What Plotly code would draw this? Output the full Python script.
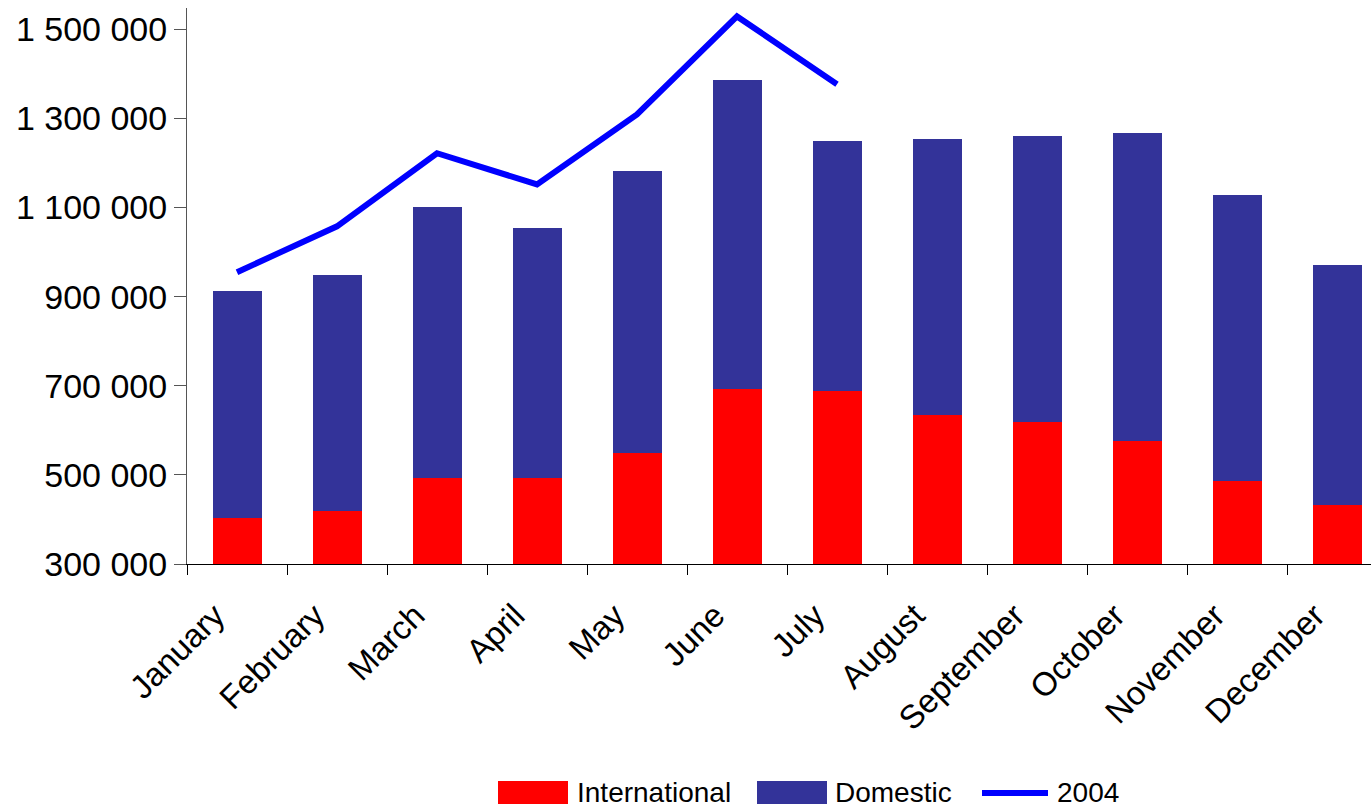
import plotly.graph_objects as go

months = ["January", "February", "March", "April", "May", "June", "July",
          "August", "September", "October", "November", "December"]
international = [403000, 418000, 492000, 492000, 549000, 692000, 688000,
                 634000, 618000, 576000, 486000, 433000]
domestic = [509000, 530000, 609000, 562000, 633000, 694000, 561000,
            620000, 642000, 691000, 642000, 538000]
line_2004 = [955000, 1058000, 1222000, 1152000, 1309000, 1529000, 1377000]
line_months = months[:7]

y_ticks = [300000, 500000, 700000, 900000, 1100000, 1300000, 1500000]

RED = "#FF0000"
NAVY = "#333399"
BLUE = "#0000FF"
FONT = "Liberation Sans, Arial, sans-serif"

fig = go.Figure()
fig.add_trace(go.Bar(x=months, y=international, name="International",
                     marker=dict(color=RED, line=dict(width=0)), width=0.49,
                     showlegend=False))
fig.add_trace(go.Bar(x=months, y=domestic, name="Domestic",
                     marker=dict(color=NAVY, line=dict(width=0)), width=0.49,
                     showlegend=False))
fig.add_trace(go.Scatter(x=line_months, y=line_2004, name="2004", mode="lines",
                         line=dict(color=BLUE, width=6), showlegend=False))

# plot geometry in pixels (for custom legend placement)
L, T, W, H = 187, 8, 1371, 809
B = 245
pw = W - L
ph = H - T - B

def px(x):
    return (x - L) / pw

def py(y):
    return (H - B - y) / ph

shapes = []
annotations = []
legend_items = [
    ("International", RED, "rect", 498, 568, 575),
    ("Domestic", NAVY, "rect", 757, 827, 833),
    ("2004", BLUE, "line", 982, 1048, 1055),
]
LEG_Y = 793
for label, col, kind, x0, x1, tx in legend_items:
    if kind == "rect":
        shapes.append(dict(type="rect", xref="paper", yref="paper",
                           x0=px(x0), x1=px(x1), y0=py(LEG_Y + 11), y1=py(LEG_Y - 12),
                           fillcolor=col, line=dict(width=0)))
    else:
        shapes.append(dict(type="line", xref="paper", yref="paper",
                           x0=px(x0), x1=px(x1), y0=py(LEG_Y), y1=py(LEG_Y),
                           line=dict(color=col, width=6)))
    annotations.append(dict(text=label, xref="paper", yref="paper",
                            x=px(tx), y=py(LEG_Y), xanchor="left", yanchor="middle",
                            showarrow=False,
                            font=dict(family=FONT, size=28, color="black")))

fig.update_layout(
    barmode="stack",
    width=W, height=H,
    margin=dict(l=L, r=0, t=T, b=B, pad=0),
    plot_bgcolor="white", paper_bgcolor="white",
    separators=". ",
    font=dict(family=FONT, color="black"),
    showlegend=False,
    shapes=shapes,
    annotations=annotations,
    xaxis=dict(
        type="category",
        range=[-0.5, 11.34],
        tickson="boundaries",
        ticks="outside", ticklen=10, tickcolor="black", tickwidth=1,
        showline=True, linecolor="black", linewidth=1,
        tickangle=-45,
        ticklabelshift=-22,
        ticklabelstandoff=18,
        tickfont=dict(family=FONT, size=33, color="black"),
        showgrid=False, zeroline=False,
    ),
    yaxis=dict(
        range=[300000, 1548000],
        tickvals=y_ticks,
        tickformat=",d",
        ticks="outside", ticklen=12, tickcolor="#555555", tickwidth=1,
        showline=True, linecolor="#555555", linewidth=1,
        tickfont=dict(family=FONT, size=34, color="black"),
        showgrid=False, zeroline=False,
    ),
)

fig.write_html("out.html")
